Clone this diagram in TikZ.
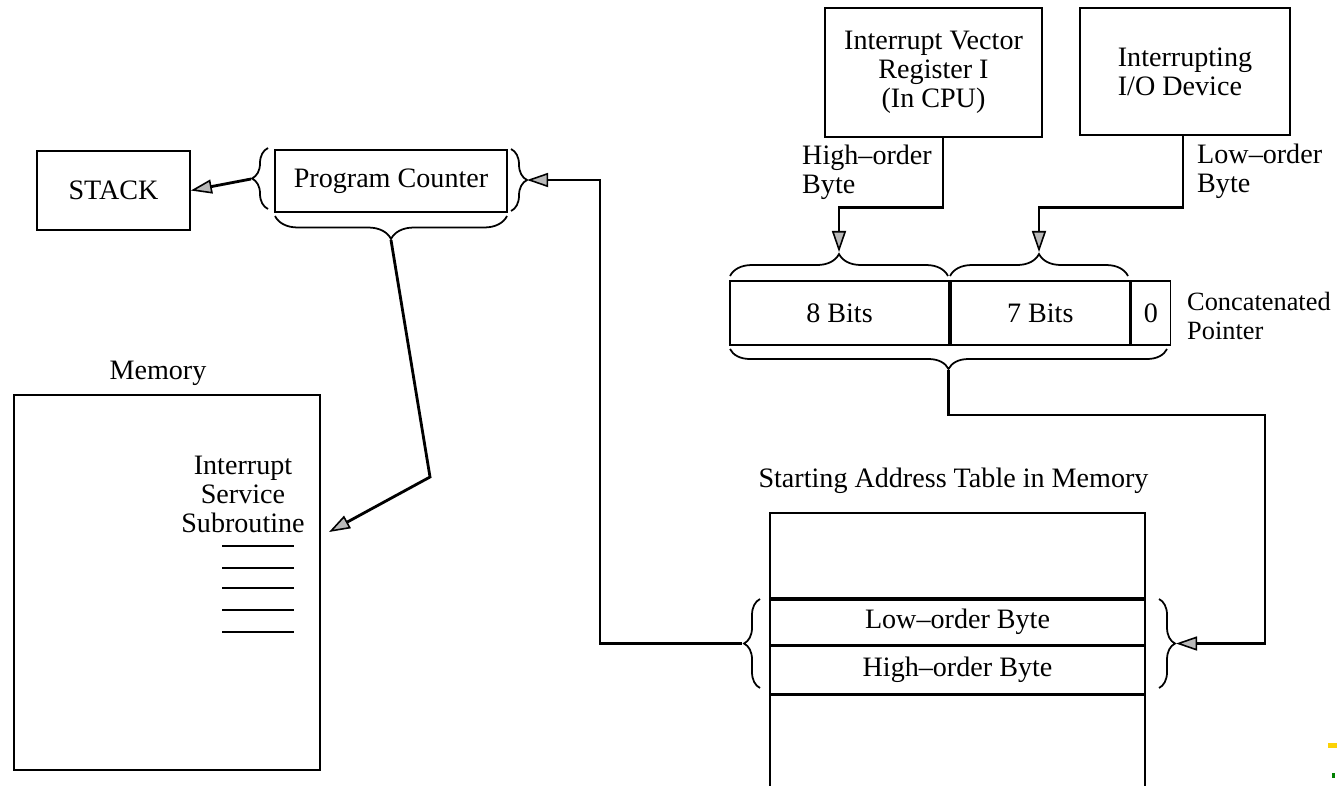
\documentclass[tikz,border=0pt]{standalone}
\usepackage{fontspec}
\setmainfont{Liberation Serif}
\usetikzlibrary{arrows.meta,decorations.pathreplacing,positioning}

\begin{document}
\begin{tikzpicture}[x=0.02cm,y=-0.02cm,
  caja/.style={draw,line width=1pt,inner sep=0pt},
  llave/.style={decorate,decoration={brace,amplitude=#1},line width=1pt},
  llave/.default=0.32cm,
  flecha/.style={line width=1.6pt,-{Triangle[length=12pt,width=8pt,fill=gray!55,line width=0.9pt]}},
  font=\fontsize{16}{16.5}\selectfont]
\useasboundingbox (0,0) rectangle (1337,785);
\clip (0,0) rectangle (1337,785);
% Pila, contador de programa y memoria
\node[caja,minimum width=3.06cm,minimum height=1.58cm] (stack) at (113.5,190.5) {STACK};
\node[caja,minimum width=4.64cm,minimum height=1.24cm] (pc) at (391,181) {Program Counter};
\node[caja,minimum width=6.12cm,minimum height=7.5cm] (memoria) at (167,582.5) {};
\node (memlab) at (158,373) {Memory};
\node[align=center] (isr) at (243,494) {Interrupt\\Service\\Subroutine};
\foreach \y in {546,568,588,610,632}
  \draw[line width=1.6pt] (222,\y) -- (294,\y);
\coordinate (isrpunta) at (329,532);
% Registro I y dispositivo
\node[caja,minimum width=4.34cm,minimum height=2.58cm,align=center] (ivr) at (933.5,72.5) {Interrupt Vector\\Register I\\(In CPU)};
\node[caja,minimum width=4.2cm,minimum height=2.54cm,align=left] (iodev) at (1185,71.5) {Interrupting\\I/O Device};
\node[align=left,anchor=west] (hob) at (796,172) {High--order\\Byte};
\node[align=left,anchor=west] (lob) at (1191,171) {Low--order\\Byte};
% Puntero concatenado
\node[caja,minimum width=4.38cm,minimum height=1.28cm] (ocho) at (839.5,313) {8 Bits};
\node[caja,minimum width=3.58cm,minimum height=1.28cm,right=0pt of ocho] (siete) {7 Bits};
\node[caja,minimum width=0.78cm,minimum height=1.28cm,right=0pt of siete] (cero) {0};
\node[align=left,anchor=west,font=\fontsize{15}{16.5}\selectfont] (conc) at (1181,316) {Concatenated\\Pointer};
% Tabla de direcciones
\node (titulo) at (953.5,481) {Starting Address Table in Memory};
\node[caja,minimum width=7.5cm,minimum height=1.7cm] (t1) at (957.5,555.5) {};
\node[caja,minimum width=7.5cm,minimum height=0.9cm,below=0pt of t1] (bajo) {Low--order Byte};
\node[caja,minimum width=7.5cm,minimum height=0.94cm,below=0pt of bajo] (alto) {High--order Byte};
\node[caja,minimum width=7.5cm,minimum height=1.9cm,below=0pt of alto] (t4) {};
% Llaves
\draw[llave] (268,209) -- (268,148);
\coordinate (pcizq) at (251,179);
\draw[llave] (511,149) -- (511,211);
\coordinate (pcder) at (527,180);
\draw[llave=0.46cm] (507,216) -- (275,216);
\coordinate (pcabj) at (391,240);
\draw[llave=0.44cm] (730,276) -- (948,276);
\coordinate (ochollave) at (839,252);
\draw[llave=0.44cm] (950,276) -- (1128,276);
\coordinate (sietellave) at (1039,252);
\draw[llave=0.4cm] (1167,349) -- (730,349);
\coordinate (punterollave) at (948.5,370);
\draw[llave] (760,688) -- (760,599);
\coordinate (tizq) at (742,643.5);
\draw[llave] (1159,599) -- (1159,688);
\coordinate (tder) at (1176,643.5);
% Conexiones
\draw[flecha] (pcizq) -- (stack.east);
\draw[flecha] (pcabj) -- (430,477) -- (isrpunta);
\draw[flecha] (tizq) -- (600,643.5) |- (pcder);
\draw[flecha] ([xshift=0.19cm]ivr.south) -- ++(0,70) -| (ochollave);
\draw[flecha] ([xshift=-0.04cm]iodev.south) -- ++(0,72) -| (sietellave);
\draw[flecha] (punterollave) |- (1265,415) |- (tder);
% marcas de la esquina
\fill[yellow!70!orange] (1328,743) rectangle (1337,748);
\fill[green!50!black] (1332,773) rectangle (1335,778);
\end{tikzpicture}
\end{document}
